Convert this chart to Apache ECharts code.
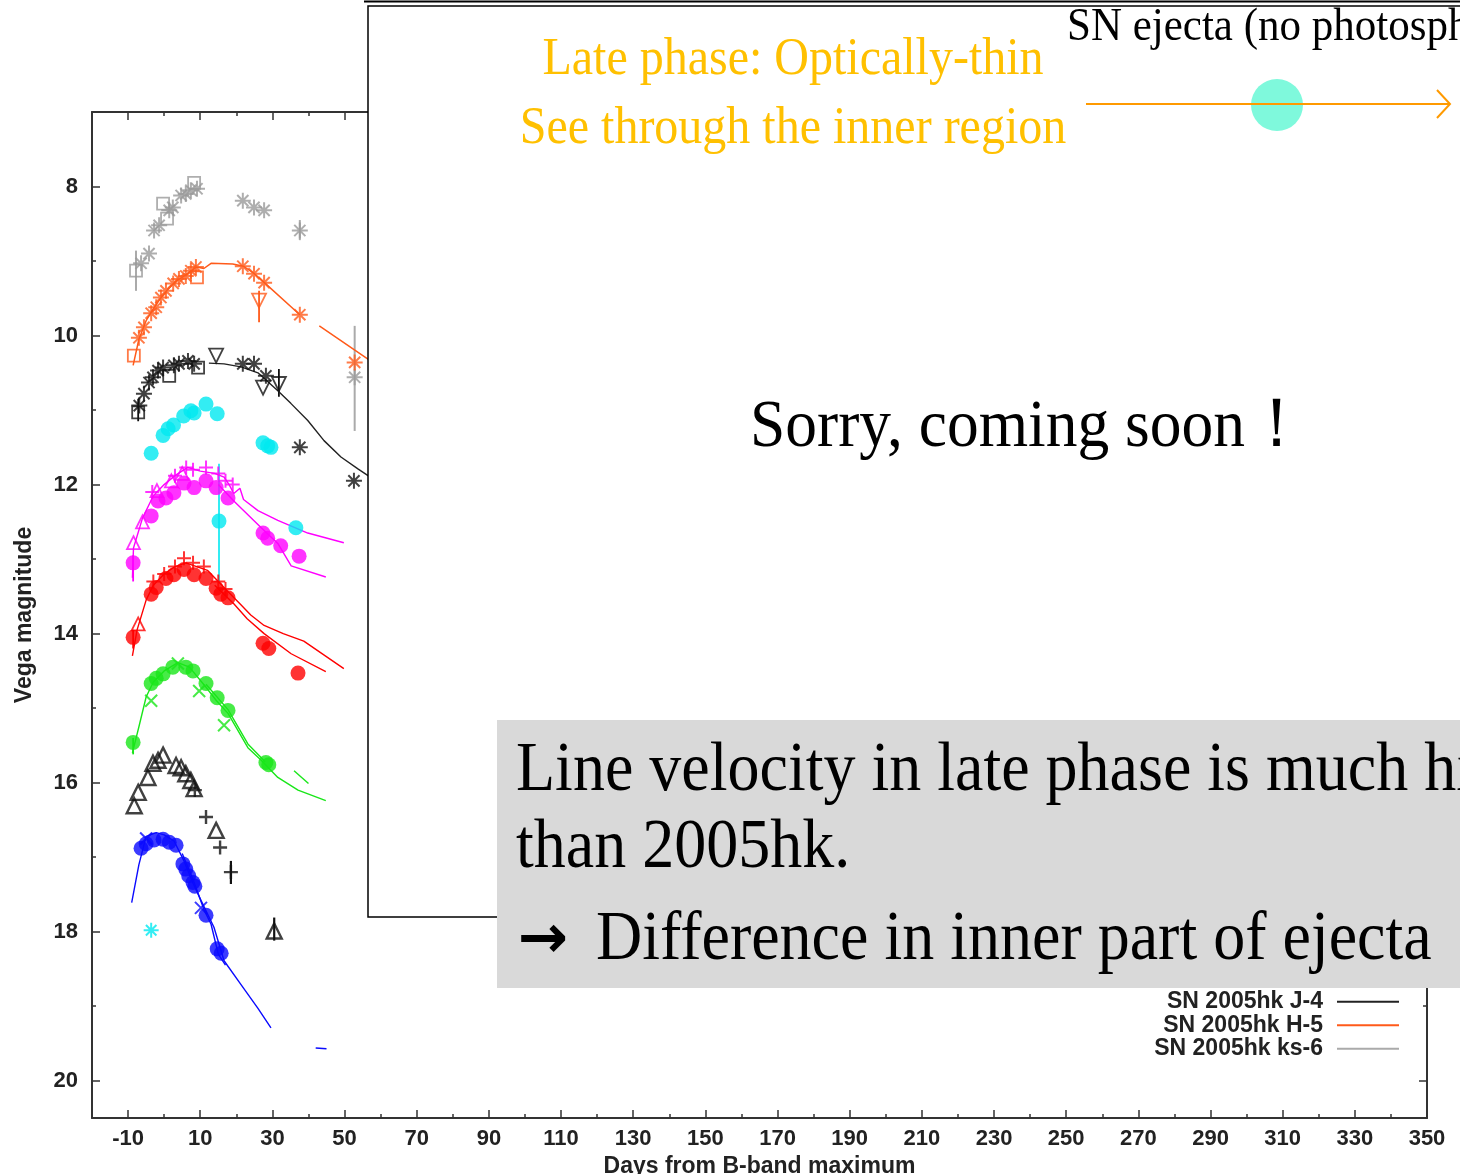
<!DOCTYPE html>
<html><head><meta charset="utf-8">
<script src="https://cdn.jsdelivr.net/npm/echarts@6/dist/echarts.min.js"></script>
<style>html,body{margin:0;padding:0;background:#fff;overflow:hidden}#c{width:1460px;height:1174px}</style>
</head><body><div id="c"></div>
<script>
// ---------- tick values ----------
const xMajor = [-10,10,30,50,70,90,110,130,150,170,190,210,230,250,270,290,310,330,350];
const xMinor = [0,20,40,60,80,100,120,140,160,180,200,220,240,260,280,300,320,340];
const yMajor = [8,10,12,14,16,18,20];
const yMinor = [9,11,13,15,17,19];

// ---------- grey (ks-6 offset) ----------
const greyStar = [[-6.4,9.03],[-4.2,8.9],[-2.8,8.59],[-1.4,8.52],[1.4,8.32],[2.4,8.28],[4.7,8.12],[6.0,8.1],[7.4,8.05],[9.1,8.03],[21.8,8.19],[24.9,8.28],[27.7,8.32],[37.6,8.59],[52.8,10.56]];
const greySquare = [[-7.8,9.13],[-0.3,8.23],[0.8,8.43],[8.3,7.95]];
const greyErr = [[-7.8,8.86,9.4],[37.6,8.45,8.72],[52.8,9.87,11.28]];

// ---------- orange (H-5) ----------
const orangeStar = [[-7,10.03],[-5.6,9.89],[-3.6,9.7],[-2.2,9.62],[-0.9,9.49],[0.5,9.4],[2.5,9.3],[4.1,9.24],[6.0,9.2],[7.4,9.13],[8.8,9.08],[21.8,9.07],[24.9,9.17],[27.7,9.29],[37.6,9.72],[52.8,10.36]];
const orangeSquare = [[-8.4,10.27],[9.1,9.22]];
const orangeTriDown = [[26.3,9.53]];
const orangeErr = [[26.3,9.4,9.82]];
const orangeLine1 = [[-8.6,10.4],[-7,10.05],[-5,9.8],[-3,9.64],[-1,9.5],[1,9.38],[3,9.28],[5,9.22],[7,9.15],[9,9.08],[11,9.1],[13,9.03],[19,9.04],[22,9.07],[25,9.17],[28,9.3],[37.6,9.72]];
const orangeLine2 = [[43,9.87],[57.5,10.35],[65,10.6]];

// ---------- black (J-4) ----------
const blackStar = [[-6.9,10.94],[-5.6,10.78],[-4.2,10.63],[-3.1,10.56],[-1.7,10.47],[-0.3,10.43],[2.7,10.4],[4.1,10.38],[6.6,10.34],[8.3,10.38],[21.8,10.38],[24.9,10.38],[28.2,10.54],[37.6,11.5],[52.6,11.95]];
const blackSquare = [[-7.2,11.03],[1.4,10.54],[9.4,10.43]];
const blackTriDown = [[14.4,10.27],[27.4,10.7],[31.8,10.65]];
const blackErr = [[-7.2,10.85,11.15],[31.8,10.45,10.82]];
const blackLine = [[12.4,10.37],[16.6,10.38],[21.3,10.42],[26,10.5],[31.5,10.74],[35.1,10.91],[39.8,11.14],[44.3,11.41],[49,11.63],[53.7,11.79],[56.5,11.88],[62,12.05]];

// ---------- cyan ----------
const cyanDot = [[-3.6,11.58],[-0.3,11.34],[1.1,11.25],[2.6,11.2],[5.4,11.08],[7.4,11.01],[8.3,11.04],[11.6,10.92],[14.7,11.05],[27.4,11.44],[28.7,11.48],[29.6,11.5],[15.2,12.49],[36.5,12.58]];
const cyanErr = [[15.2,11.72,13.3]];
const cyanStar = [[-3.6,17.98]];

// ---------- magenta ----------
const magDot = [[-8.6,13.05],[-3.6,12.42],[-1.7,12.22],[0.5,12.18],[2.7,12.11],[5.5,11.98],[8.3,12.04],[11.6,11.95],[14.4,12.04],[17.7,12.18],[27.4,12.65],[28.7,12.72],[32.3,12.82],[37.4,12.96]];
const magTri = [[-8.5,12.78],[-6,12.5],[-2,12.08],[2,11.95],[5,11.85]];
const magPlus = [[-3.3,12.1],[3,11.88],[6.1,11.77],[8,11.8],[11.6,11.77],[15,11.85],[17,11.95],[19,12.0]];
const magErr = [[-8.6,12.95,13.3]];
const magLine1 = [[-8.8,13.25],[-8.5,12.85],[-6,12.45],[-3,12.15],[0,12.0],[3,11.88],[6.5,11.77],[10,11.82],[14,11.85],[16.6,11.9],[18,12.0],[19.3,12.12],[21,12.05],[22,12.2],[26,12.35],[31.5,12.48],[39.8,12.65],[49.8,12.78]];
const magLine2 = [[15,12.0],[19.3,12.22],[26.9,12.58],[31.5,12.79],[35.2,13.09],[44.8,13.24]];

// ---------- red ----------
const redDot = [[-8.6,14.05],[-3.6,13.47],[-2.2,13.38],[0.5,13.26],[2.7,13.21],[5.5,13.14],[8.3,13.21],[11.6,13.26],[14.4,13.39],[15.7,13.47],[17.7,13.52],[27.4,14.13],[29,14.2],[37.1,14.53]];
const redTri = [[-7.2,13.87]];
const redPlus = [[-3,13.3],[0,13.2],[3,13.1],[5.5,12.99],[8,13.05],[11,13.1],[15,13.3],[17,13.4]];
const redErr = [[-8.6,13.95,14.2]];
const redLine1 = [[-8.8,14.3],[-7.5,13.95],[-5,13.55],[-3,13.35],[0,13.2],[3,13.1],[6,13.05],[9,13.1],[12,13.15],[15,13.3],[18,13.45],[21,13.6],[24,13.75],[27.7,13.89],[33,14.0],[38.7,14.1],[49.8,14.47]];
const redLine2 = [[14,13.35],[19.3,13.6],[23,13.8],[27.7,14.0],[35.2,14.27],[44.8,14.51]];

// ---------- green ----------
const greenDot = [[-8.6,15.46],[-3.6,14.67],[-2.2,14.6],[-0.3,14.54],[2.4,14.45],[6,14.45],[8,14.5],[11.6,14.67],[14.7,14.86],[17.7,15.03],[28.2,15.73],[29,15.76]];
const greenX = [[-3.6,14.9],[3.8,14.4],[9.7,14.77],[16.6,15.23]];
const greenErr = [[-8.6,15.4,15.62]];
const greenLine1 = [[-8.8,15.6],[-7,15.25],[-5,14.85],[-3,14.65],[0,14.5],[3.8,14.39],[7,14.45],[11.6,14.72],[14.5,14.9],[17.7,15.07],[23.2,15.53],[26.9,15.7],[31.5,15.93],[37.1,16.1],[44.8,16.24]];
const greenLine2 = [[11.6,14.68],[17.7,15.02],[23.2,15.48],[28,15.72]];
const greenDash = [[36,15.84],[40,16.01]];

// ---------- black triangles ----------
const blkTri = [[-8.3,16.31],[-7.2,16.13],[-4.5,15.93],[-3.1,15.74],[-1.7,15.7],[-0.3,15.63],[3.3,15.77],[4.7,15.8],[6.0,15.88],[7.4,15.97],[8.3,16.08],[14.4,16.64],[30.5,17.99]];
const blkPlus = [[8.5,16.1],[11.6,16.46],[15.5,16.87],[18.5,17.2]];
const blkErr = [[18.5,17.05,17.36],[30.5,17.81,18.12]];

// ---------- blue ----------
const blueDot = [[-6.4,16.88],[-5,16.82],[-2.8,16.77],[-0.3,16.76],[1.4,16.8],[3.3,16.84],[5.2,17.09],[6,17.16],[6.8,17.25],[8,17.34],[8.5,17.39],[11.6,17.78],[14.7,18.23],[15.8,18.29]];
const blueX = [[-5,16.75],[10.2,17.68]];
const blueLine1 = [[-9,17.61],[-7,17.1],[-5,16.72],[-2.2,16.67],[0,16.7],[2.7,16.78],[5.5,17.05],[8,17.35],[10.2,17.58],[13.8,17.94],[16.6,18.39],[21.3,18.71],[26,19.03],[29.6,19.29]];
const blueLine2 = [[5,16.95],[8,17.3],[11,17.7],[13,17.9],[15,18.3],[17,18.45]];
const blueSeg = [[42,19.56],[45,19.57]];

// ---------- legend names ----------
const legendNames = ['SN 2005hk J-4','SN 2005hk H-5','SN 2005hk ks-6'];

// ---------- slide texts ----------
const txtLate = 'Late phase: Optically-thin';
const txtSee = 'See through the inner region';
const txtEjecta = 'SN ejecta (no photosphere)';
const txtSorry = 'Sorry, coming soon\uFF01';
const txtL1 = 'Line velocity in late phase is much higher';
const txtL2 = 'than 2005hk.';
const txtArrow = '\u2192';
const txtL3 = 'Difference in inner part of ejecta';

const C = {grey:'#9a9a9a', orange:'#ff5a1a', black:'#111', cyan:'#00e8f0', mag:'#ff00ff', red:'#ff0000', green:'#19e619', blue:'#0a0aff'};
const STAR = 'path://M10,0L10,20M0,10L20,10M3,3L17,17M3,17L17,3';
const PLUS = 'path://M10,0L10,20M0,10L20,10';
const CROSS = 'path://M0,0L20,20M0,20L20,0';

function pts(data, color, symbol, size, opt, bw) {
  opt = opt || {};
  let style;
  if (symbol === 'circle') style = {color: color};
  else if (symbol.startsWith('path://')) style = {color: color, borderColor: color, borderWidth: bw || 2};
  else style = {color: 'rgba(255,255,255,0)', borderColor: color, borderWidth: bw || 1.8};
  return Object.assign({type:'scatter', data, symbol, symbolSize:size, itemStyle:style, z:4, silent:true}, opt);
}
function ln(data, color, w, extra) {
  return Object.assign({type:'line', data, showSymbol:false, symbol:'none', lineStyle:{color, width:w||1.3}, itemStyle:{color}, z:3, silent:true}, extra||{});
}
function err(data, color, w, name) {
  return {type:'custom', name, data, encode:{x:0, y:[1,2]}, itemStyle:{color}, z:3, silent:true,
    renderItem: function (p, api) {
      const a = api.coord([api.value(0), api.value(1)]);
      const b = api.coord([api.value(0), api.value(2)]);
      return {type:'line', shape:{x1:a[0], y1:a[1], x2:b[0], y2:b[1]}, style:{stroke:color, lineWidth:w||1.6}};
    }};
}

const sansBold = {fontFamily:'Liberation Sans, Arial, sans-serif', fontWeight:'bold', color:'#222'};
const axisLineStyle = {color:'#333', width:2};
function xAx(pos, vals, len, showLine, labels) {
  return {type:'value', position:pos, min:-20, max:350, splitLine:{show:false},
    axisLine:{show:showLine, onZero:false, lineStyle:axisLineStyle},
    axisTick:{show:true, inside:true, length:len, customValues:vals, lineStyle:{color:'#333', width:1.5}},
    axisLabel: labels ? Object.assign({show:true, customValues:vals, fontSize:22, margin:10}, sansBold) : {show:false}};
}
function yAx(pos, vals, len, showLine, labels) {
  return {type:'value', position:pos, min:7, max:20.5, inverse:true, splitLine:{show:false},
    axisLine:{show:showLine, onZero:false, lineStyle:axisLineStyle},
    axisTick:{show:true, inside:true, length:len, customValues:vals, lineStyle:{color:'#333', width:1.5}},
    axisLabel: labels ? Object.assign({show:true, customValues:vals, fontSize:22, margin:14}, sansBold) : {show:false}};
}
const xa0 = xAx('bottom', xMajor, 8, true, true);
xa0.name = 'Days from B-band maximum'; xa0.nameLocation = 'middle'; xa0.nameGap = 33;
xa0.nameTextStyle = Object.assign({fontSize:23}, sansBold);
const ya0 = yAx('left', yMajor, 8, true, true);
ya0.name = 'Vega magnitude'; ya0.nameLocation = 'middle'; ya0.nameGap = 56; ya0.nameRotate = 90;
ya0.nameTextStyle = Object.assign({fontSize:23}, sansBold);

const serif = 'Liberation Serif, Times New Roman, serif';
function stxt(x, y, text, size, color, align, sy, extra) {
  return {type:'text', z:110, x, y, scaleY: sy || 1.08, style:Object.assign({text, fontFamily:serif, fontSize:size, fill:color, align:align||'left', verticalAlign:'middle'}, extra||{})};
}

const series = [
  // grey
  pts(greyStar, C.grey, STAR, 16), pts(greySquare, C.grey, 'rect', 12),
  err(greyErr, '#aaaaaa', 2, legendNames[2]),
  // orange
  ln(orangeLine1, C.orange, 1.5, {name: legendNames[1]}), ln(orangeLine2, C.orange, 1.5, {name: legendNames[1]}),
  pts(orangeStar, C.orange, STAR, 16), pts(orangeSquare, C.orange, 'rect', 12),
  pts(orangeTriDown, C.orange, 'triangle', 14, {symbolRotate:180}), err(orangeErr, C.orange, 1.8),
  // black J
  ln(blackLine, '#222', 1.4, {name: legendNames[0]}),
  pts(blackStar, C.black, STAR, 16), pts(blackSquare, C.black, 'rect', 12),
  pts(blackTriDown, C.black, 'triangle', 14, {symbolRotate:180}), err(blackErr, C.black, 1.8),
  // cyan
  err(cyanErr, C.cyan, 1.6), pts(cyanDot, C.cyan, 'circle', 15), pts(cyanStar, C.cyan, STAR, 15),
  // magenta
  ln(magLine1, C.mag, 1.4), ln(magLine2, C.mag, 1.4),
  pts(magDot, C.mag, 'circle', 15), pts(magTri, C.mag, 'triangle', 13), pts(magPlus, C.mag, PLUS, 14), err(magErr, C.mag, 1.8),
  // red
  ln(redLine1, C.red, 1.4), ln(redLine2, C.red, 1.4),
  pts(redDot, C.red, 'circle', 15), pts(redTri, C.red, 'triangle', 13), pts(redPlus, C.red, PLUS, 14), err(redErr, C.red, 1.8),
  // green
  ln(greenLine1, C.green, 1.4), ln(greenLine2, C.green, 1.4), ln(greenDash, C.green, 1.4),
  pts(greenDot, C.green, 'circle', 15), pts(greenX, C.green, CROSS, 12), err(greenErr, C.green, 1.8),
  // black triangles
  pts(blkTri, C.black, 'triangle', 15, null, 2.4), pts(blkPlus, C.black, PLUS, 14, null, 2.4), err(blkErr, C.black, 2.2),
  // blue
  ln(blueLine1, C.blue, 1.4), ln(blueLine2, C.blue, 1.4), ln(blueSeg, C.blue, 1.4),
  pts(blueDot, C.blue, 'circle', 15), pts(blueX, C.blue, CROSS, 12)
];

const chart = echarts.init(document.getElementById('c'), null, {renderer:'canvas'});
chart.setOption({
  animation:false,
  backgroundColor:'#fff',
  grid:{left:92, right:33, top:112, bottom:56, containLabel:false, outerBoundsMode:'none'},
  xAxis:[xa0, xAx('bottom', xMinor, 4, false, false), xAx('top', xMajor, 8, true, false), xAx('top', xMinor, 4, false, false)],
  yAxis:[ya0, yAx('left', yMinor, 4, false, false), yAx('right', yMajor, 8, true, false), yAx('right', yMinor, 4, false, false)],
  legend:{show:true, orient:'vertical', align:'right', right:56, top:985, itemGap:0, itemWidth:62, itemHeight:2, icon:'rect', selectedMode:false,
    data:legendNames,
    textStyle:Object.assign({fontSize:23, lineHeight:23.5, padding:[0,9,0,0]}, sansBold)},
  series: series,
  graphic:[
    {type:'rect', z:100, shape:{x:368, y:6, width:1100, height:911}, style:{fill:'#fff', stroke:'#000', lineWidth:1.5}},
    {type:'line', z:101, shape:{x1:364, y1:1.5, x2:1460, y2:1.5}, style:{stroke:'#000', lineWidth:2}},
    {type:'rect', z:102, shape:{x:497, y:720, width:970, height:268}, style:{fill:'#d9d9d9'}},
    stxt(793, 60, txtLate, 48, '#ffc000', 'center'),
    stxt(793, 129, txtSee, 48, '#ffc000', 'center'),
    stxt(1067, 28, txtEjecta, 43, '#000', 'left'),
    {type:'circle', z:105, shape:{cx:1277, cy:105, r:26}, style:{fill:'#7ff9dc'}},
    {type:'polyline', z:106, shape:{points:[[1086,104],[1450,104]]}, style:{stroke:'#ff9a00', lineWidth:2, fill:null}},
    {type:'polyline', z:106, shape:{points:[[1437,90],[1450,104],[1437,118]]}, style:{stroke:'#ff9a00', lineWidth:2, fill:null}},
    stxt(750, 428, txtSorry, 63.5, '#000', 'left'),
    stxt(516, 772, txtL1, 64, '#000', 'left'),
    stxt(516, 849, txtL2, 64, '#000', 'left'),
    stxt(518, 941, txtArrow, 60, '#000', 'left', 1.0, {fontFamily:'DejaVu Sans, sans-serif', fontWeight:'bold'}),
    stxt(596, 941, txtL3, 64, '#000', 'left')
  ]
});
</script></body></html>
